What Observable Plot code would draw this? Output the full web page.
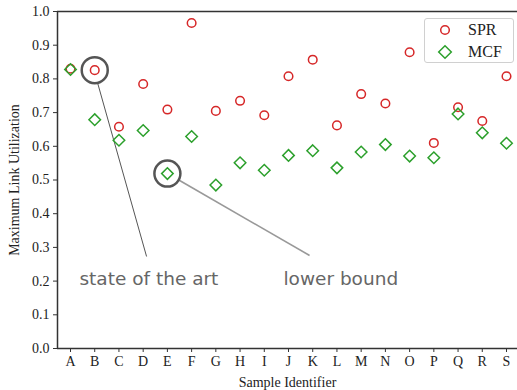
<!DOCTYPE html>
<html><head><meta charset="utf-8">
<script src="https://cdn.jsdelivr.net/npm/d3@7"></script>
<script src="https://cdn.jsdelivr.net/npm/@observablehq/plot@0.6"></script>
<style>
body{margin:0;background:#fff;}
#wrap{position:relative;width:517px;height:390px;}
.legend{position:absolute;left:424px;top:18px;width:90px;height:45px;border:1px solid #d0d0d0;border-radius:3px;background:rgba(255,255,255,0.85);box-sizing:border-box;font-family:"Liberation Serif",serif;font-size:16px;color:#222;}
.legend .row{position:absolute;left:0;height:20px;display:flex;align-items:center;}
.legend svg{position:absolute;left:10px;}
.legend span{position:absolute;left:43px;white-space:nowrap;}
</style>
</head><body>
<div id="wrap"></div>
<script>
const samples = ["A","B","C","D","E","F","G","H","I","J","K","L","M","N","O","P","Q","R","S"];
const spr = [0.830,0.826,0.658,0.785,0.709,0.966,0.705,0.735,0.692,0.808,0.857,0.662,0.755,0.727,0.879,0.610,0.716,0.675,0.808];
const mcf = [0.828,0.679,0.618,0.647,0.519,0.629,0.485,0.551,0.529,0.573,0.587,0.536,0.583,0.605,0.571,0.566,0.696,0.640,0.609];
const yTicks = [0,0.1,0.2,0.3,0.4,0.5,0.6,0.7,0.8,0.9,1.0];
// annotations (x as sample index, y in utilization units)
const highlight = [{i:1, v:0.826, color:"#555"}, {i:4, v:0.519, color:"#555"}];
const pointers = [
  {x1:1.115, y1:0.789, x2:3.14, y2:0.273, color:"#555", w:1},
  {x1:4.47, y1:0.500, x2:9.87, y2:0.276, color:"#999", w:1.6}
];
const labels = [{i:0.37, v:0.205, text:"state of the art"}, {i:8.79, v:0.205, text:"lower bound"}];

const sprData = samples.map((s,i)=>({i, v:spr[i]}));
const mcfData = samples.map((s,i)=>({i, v:mcf[i]}));

const RED = "#d62728", GREEN = "#2ca02c", AX = "#333";

const plot = Plot.plot({
  width: 517, height: 390,
  marginLeft: 57, marginRight: 0, marginTop: 11, marginBottom: 42,
  style: {fontFamily: "'Liberation Serif', serif", fontSize: "14px", color: "#222", background: "#fff"},
  x: {domain: [-0.537, 18.454]},
  y: {domain: [0, 1]},
  marks: [
    Plot.axisX({ticks: d3.range(samples.length), tickFormat: i => samples[i], tickSize: 4, tickPadding: 4, stroke: AX,
      label: "Sample Identifier", labelAnchor: "center", labelOffset: 38, labelArrow: "none"}),
    Plot.axisY({ticks: yTicks, tickFormat: d3.format(".1f"), tickSize: 4, tickPadding: 4, stroke: AX,
      label: "Maximum Link Utilization", labelAnchor: "center", labelOffset: 48, labelArrow: "none"}),
    Plot.ruleY([0], {stroke: AX, strokeWidth: 1.5}),
    Plot.ruleY([1], {stroke: AX, strokeWidth: 1.5}),
    Plot.ruleX([-0.537], {stroke: AX, strokeWidth: 1.5}),
    Plot.link(pointers, {x1:"x1", y1:"y1", x2:"x2", y2:"y2", stroke:"color", strokeWidth:"w"}),
    Plot.dot(sprData, {x:"i", y:"v", r:4.3, stroke: RED, strokeWidth:1.5, fill:"none"}),
    Plot.dot(mcfData, {x:"i", y:"v", r:5.2, symbol:"diamond2", stroke: GREEN, strokeWidth:1.5, fill:"none"}),
    Plot.dot(highlight, {x:"i", y:"v", r:13, stroke:"color", strokeWidth:2.5, fill:"none"}),
    Plot.text(labels, {x:"i", y:"v", text:"text", textAnchor:"start", fill:"#666", fontSize:18.5, fontFamily:"'DejaVu Sans', sans-serif"})
  ]
});
const wrap = document.getElementById("wrap");
wrap.appendChild(plot);

const legend = document.createElement("div");
legend.className = "legend";
legend.innerHTML = `
  <div class="row" style="top:1px;width:100%">
    <svg width="20" height="20" viewBox="-10 -10 20 20"><circle r="4.3" fill="none" stroke="${RED}" stroke-width="1.5"/></svg>
    <span>SPR</span></div>
  <div class="row" style="top:23px;width:100%">
    <svg width="20" height="20" viewBox="-10 -10 20 20"><path d="M0,-6.3L6.3,0L0,6.3L-6.3,0Z" fill="none" stroke="${GREEN}" stroke-width="1.5"/></svg>
    <span>MCF</span></div>`;
wrap.appendChild(legend);
</script>
</body></html>
